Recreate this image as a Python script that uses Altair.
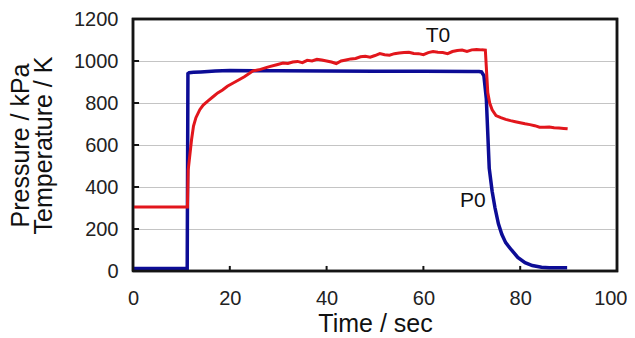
import altair as alt
import pandas as pd

# Pressure P0 (kPa)
p_time = [0, 5, 11.2, 11.35, 11.6, 12.5, 14, 17, 20, 25, 30, 40, 50, 60, 70, 71.5,
          72.0, 72.5, 73.0, 73.6, 74.2, 74.8, 75.5, 76.2, 77.0, 78.2, 79.5, 81.0,
          82.5, 84.4, 86.0, 89.7]
p_val = [12, 12, 12, 940, 944, 946, 948, 952, 955, 954, 953, 952, 951, 951, 950, 950,
         948, 930, 820, 490, 380, 300, 225, 175, 135, 100, 65, 40,
         26, 18, 16, 16]

# Temperature T0 (K)
t_time = [0, 5, 11.25, 11.4, 12.1, 12.5, 13.0, 13.8, 14.5, 15.5, 16.6, 17.5, 18.5,
          19.5, 20.7, 22, 23, 24, 24.8, 26, 27, 28, 29.7, 31, 32, 33, 34, 35, 36,
          37, 38, 39, 40, 41, 42, 43, 44, 45, 46, 47, 48, 49, 50, 51, 52, 53, 54,
          55, 56, 57, 58, 59, 60, 61, 62, 63, 64, 65, 66, 67, 68, 69, 70, 71, 72,
          72.8, 73.3, 73.7, 74.2, 75, 76, 77, 78, 79, 80, 81, 82, 83, 84, 85, 86,
          87, 88, 89, 89.8]
t_val = [305, 305, 305, 480, 626, 690, 730, 768, 790, 810, 831, 848, 862,
         880, 895, 912, 925, 940, 953, 958, 965, 972, 982, 990, 988, 995, 998, 992, 1003,
         1000, 1008, 1005, 1000, 995, 988, 1000, 1005, 1010, 1012, 1020, 1022, 1018, 1026, 1035, 1030, 1028, 1035,
         1038, 1040, 1042, 1036, 1035, 1030, 1040, 1045, 1042, 1040, 1035, 1045, 1050, 1052, 1046, 1053, 1055, 1053,
         1052, 850, 800, 768, 740, 730, 722, 716, 711, 706, 701, 697, 692, 685, 684, 686,
         682, 681, 679, 677]

label_text = ["T0", "P0"]
label_x = [63.0, 70.2]
label_y = [1119, 332]

x_labels = [0, 20, 40, 60, 80, 100]
y_labels = [0, 200, 400, 600, 800, 1000, 1200]
x_ticks = [20, 40, 60, 80]
y_ticks = [200, 400, 600, 800, 1000]
x_range = [0, 100]
y_range = [0, 1200]

series_names = ["P0", "T0"]
series_colors = ["#0c0c96", "#e2161c"]
series_widths = [3.5, 3]

FONT = "Liberation Sans"
INK = "#141414"

df = pd.concat([
    pd.DataFrame({"time": p_time, "value": p_val, "series": "P0", "order": range(len(p_time))}),
    pd.DataFrame({"time": t_time, "value": t_val, "series": "T0", "order": range(len(t_time))}),
])

xscale = alt.Scale(domain=x_range, nice=False)
yscale = alt.Scale(domain=y_range, nice=False)

xaxis = alt.Axis(values=x_labels, grid=False, domain=False, ticks=False,
                 format="d", labelOverlap=False,
                 labelAlign=alt.ConditionalAxisLabelAlign(
                     condition={"test": "datum.value == 100", "value": "right"}, value="center"),
                 labelOffset=alt.ConditionalAxisNumber(
                     condition={"test": "datum.value == 100", "value": 10}, value=0),
                 labelFont=FONT, labelFontSize=20, labelColor="#222222", labelPadding=17,
                 title="Time / sec", titleFont=FONT, titleFontSize=25, titleFontWeight="normal",
                 titleColor="#111111", titlePadding=3, labelFlush=False)
yaxis = alt.Axis(values=y_labels, grid=True, gridColor="#c4c4c4", gridWidth=1.2,
                 domain=False, ticks=False,
                 format="d", labelOverlap=False,
                 labelFont=FONT, labelFontSize=20, labelColor="#222222", labelPadding=15,
                 title=["Pressure / kPa", "Temperature / K"], titleFont=FONT, titleFontSize=25,
                 titleFontWeight="normal", titleColor="#111111", titlePadding=17,
                 titleLineHeight=23)

lines = alt.Chart(df).mark_line().encode(
    x=alt.X("time:Q", scale=xscale, axis=xaxis),
    y=alt.Y("value:Q", scale=yscale, axis=yaxis),
    color=alt.Color("series:N", scale=alt.Scale(domain=series_names, range=series_colors), legend=None),
    strokeWidth=alt.StrokeWidth("series:N", scale=alt.Scale(domain=series_names, range=series_widths), legend=None),
    order="order:Q",
)

# inward tick marks
xt_df = pd.DataFrame({
    "tx": [v for v in x_ticks for _ in range(2)],
    "ty": [0, 24] * len(x_ticks),
    "g": [i for i in range(len(x_ticks)) for _ in range(2)],
})
xt = alt.Chart(xt_df).mark_line(color=INK, strokeWidth=2).encode(
    x=alt.X("tx:Q", scale=xscale), y=alt.Y("ty:Q", scale=yscale), detail="g:N")

yt_df = pd.DataFrame({
    "tx": [0, 1.25] * len(y_ticks),
    "ty": [v for v in y_ticks for _ in range(2)],
    "g": [i for i in range(len(y_ticks)) for _ in range(2)],
})
yt = alt.Chart(yt_df).mark_line(color=INK, strokeWidth=2).encode(
    x=alt.X("tx:Q", scale=xscale), y=alt.Y("ty:Q", scale=yscale), detail="g:N")

# plot frame
frame_df = pd.DataFrame({
    "fx": [x_range[0], x_range[1], x_range[1], x_range[0], x_range[0]],
    "fy": [y_range[0], y_range[0], y_range[1], y_range[1], y_range[0]],
    "o": [0, 1, 2, 3, 4],
})
frame = alt.Chart(frame_df).mark_line(color=INK, strokeWidth=2.5, strokeJoin="miter").encode(
    x=alt.X("fx:Q", scale=xscale), y=alt.Y("fy:Q", scale=yscale), order="o:Q")

labels = alt.Chart(pd.DataFrame({"t": label_text, "x": label_x, "y": label_y})).mark_text(
    font=FONT, fontSize=21, color="#111111", align="center", baseline="middle"
).encode(x=alt.X("x:Q", scale=xscale), y=alt.Y("y:Q", scale=yscale), text="t:N")

chart = alt.layer(lines, xt, yt, frame, labels).properties(
    width=619, height=328,
    background="white",
    padding={"left": 0, "top": 1, "right": 0, "bottom": 0},
    autosize=alt.AutoSizeParams(type="fit", contains="padding"),
).configure_view(stroke=INK, strokeWidth=2.5)

chart.save("out.html", embed_options={"renderer": "svg", "actions": False})
